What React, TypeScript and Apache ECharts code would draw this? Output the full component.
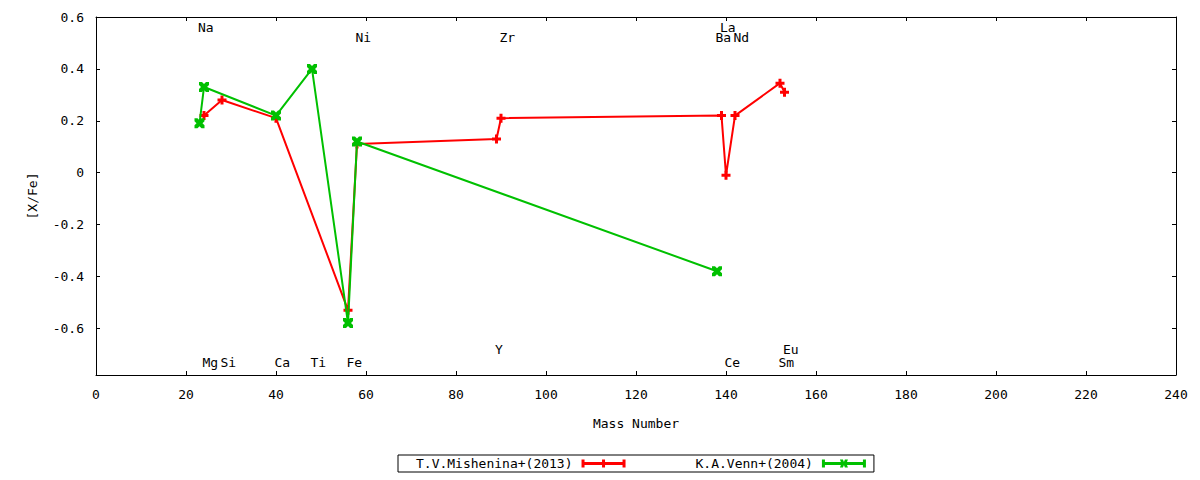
import React, { useEffect, useRef } from "react";
import * as echarts from "echarts";

// ---- data ----
const redName = "T.V.Mishenina+(2013)";
const redMass = [24, 28, 40, 56, 58, 89, 90, 139, 140, 142, 152, 153];
const redXFe = [0.22, 0.28, 0.21, -0.53, 0.11, 0.13, 0.21, 0.22, -0.01, 0.22, 0.345, 0.31];

const greenName = "K.A.Venn+(2004)";
const greenMass = [23, 24, 40, 48, 56, 58, 138];
const greenXFe = [0.19, 0.33, 0.22, 0.4, -0.58, 0.12, -0.38];

const elemNames = ["Na", "Mg", "Si", "Ca", "Ti", "Fe", "Ni", "Y", "Zr", "Ba", "La", "Ce", "Nd", "Sm", "Eu"];
const elemMass = [23, 24, 28, 40, 48, 56, 58, 89, 90, 138, 139, 140, 142, 152, 153];
const elemLabelY = [0.56, -0.73, -0.73, -0.73, -0.73, -0.73, 0.52, -0.68, 0.52, 0.52, 0.56, -0.73, 0.52, -0.73, -0.68];

const yTicks = [-0.6, -0.4, -0.2, 0, 0.2, 0.4, 0.6];

const FONT = '"DejaVu Sans Mono", monospace';
const RED = "#ff0000";
const GREEN = "#00c000";

const plusPath = "path://M3,0 L6,0 L6,3 L9,3 L9,6 L6,6 L6,9 L3,9 L3,6 L0,6 L0,3 L3,3 Z";
const crossPath =
  "path://M0,0 L3,0 L5,2 L7,0 L10,0 L10,3 L8,5 L10,7 L10,10 L7,10 L5,8 L3,10 L0,10 L0,7 L2,5 L0,3 Z";

const barBase =
  "M0,0 L3,0 L3,8 L0,8 Z M41,0 L44,0 L44,8 L41,8 Z M0,2.5 L44,2.5 L44,5.5 L0,5.5 Z ";
const redIcon = "path://" + barBase + "M20.5,0 L23.5,0 L23.5,8 L20.5,8 Z";
const greenIcon =
  "path://" + barBase + "M18,0 L21,0 L22,2.5 L23,0 L26,0 L24.5,4 L26,8 L23,8 L22,5.5 L21,8 L18,8 L19.5,4 Z";

export default function App() {
  const ref = useRef<HTMLDivElement>(null);
  useEffect(() => {
    if (!ref.current) return;
    const chart = echarts.init(ref.current, undefined, { renderer: "svg" });
    const axisText = { fontFamily: FONT, fontSize: 13, color: "#000" };
    const axisLine = { show: true, onZero: false, lineStyle: { color: "#000", width: 1 } };
    const tick = { show: true, inside: true, length: 4, lineStyle: { color: "#000" } };
    const labelData = elemNames.map((n, i) => [elemMass[i], elemLabelY[i], n]);
    chart.setOption({
      animation: false,
      grid: { left: 96, right: 24, top: 17, bottom: 105, show: false },
      xAxis: [
        {
          type: "value",
          min: 0,
          max: 240,
          interval: 20,
          position: "bottom",
          name: "Mass Number",
          nameLocation: "middle",
          nameGap: 42,
          nameTextStyle: axisText,
          axisLine,
          axisTick: tick,
          axisLabel: { ...axisText, margin: 13 },
          splitLine: { show: false },
        },
        {
          type: "value",
          min: 0,
          max: 240,
          interval: 20,
          position: "top",
          axisLine,
          axisTick: tick,
          axisLabel: { show: false },
          splitLine: { show: false },
        },
      ],
      yAxis: [
        {
          type: "value",
          min: -0.78,
          max: 0.6,
          position: "left",
          name: "[X/Fe]",
          nameLocation: "middle",
          nameGap: 57,
          nameRotate: 90,
          nameTextStyle: axisText,
          axisLine,
          axisTick: { ...tick, customValues: yTicks },
          axisLabel: { ...axisText, margin: 12, customValues: yTicks },
          splitLine: { show: false },
        },
        {
          type: "value",
          min: -0.78,
          max: 0.6,
          position: "right",
          axisLine,
          axisTick: { ...tick, customValues: yTicks },
          axisLabel: { show: false },
          splitLine: { show: false },
        },
      ],
      legend: {
        left: 398,
        top: 455,
        orient: "horizontal",
        align: "right",
        data: [
          { name: redName, icon: redIcon },
          { name: greenName, icon: greenIcon },
        ],
        itemWidth: 44,
        itemHeight: 8,
        itemGap: 70,
        padding: [2, 8, 2, 18],
        borderColor: "#000",
        borderWidth: 1,
        borderRadius: 0,
        itemStyle: { borderWidth: 0 },
        textStyle: { fontFamily: FONT, fontSize: 13, color: "#000", padding: [0, 4, 0, 0] },
        selectedMode: false,
      },
      series: [
        {
          name: redName,
          type: "line",
          data: redMass.map((m, i) => [m, redXFe[i]]),
          symbol: plusPath,
          symbolSize: 9,
          showAllSymbol: true,
          lineStyle: { color: RED, width: 2 },
          itemStyle: { color: RED, borderWidth: 0 },
          z: 2,
        },
        {
          name: greenName,
          type: "line",
          data: greenMass.map((m, i) => [m, greenXFe[i]]),
          symbol: crossPath,
          symbolSize: 10,
          showAllSymbol: true,
          lineStyle: { color: GREEN, width: 2 },
          itemStyle: { color: GREEN, borderWidth: 0 },
          z: 3,
        },
        {
          name: "elements",
          type: "custom",
          data: labelData,
          encode: { x: 0, y: 1 },
          silent: true,
          z: 4,
          renderItem: (params: any, api: any) => {
            const p = api.coord([api.value(0), api.value(1)]);
            return {
              type: "text",
              x: p[0] - 1.5,
              y: p[1],
              style: {
                text: elemNames[params.dataIndex],
                fill: "#000",
                font: '13px "DejaVu Sans Mono", monospace',
                align: "left",
                verticalAlign: "middle",
              },
            };
          },
        },
      ],
    });
    return () => chart.dispose();
  }, []);
  return (
    <div
      ref={ref}
      style={{ position: "fixed", left: 0, top: 0, width: 1200, height: 480, background: "#fff" }}
    />
  );
}
